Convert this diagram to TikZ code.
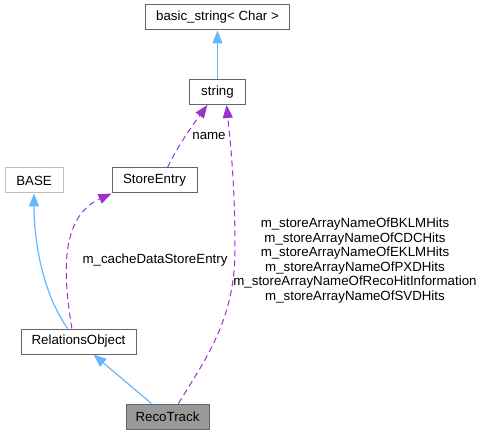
\documentclass[tikz,border=0pt]{standalone}
\usepackage{fontspec}
\setmainfont{Liberation Sans}
\usepackage{xcolor}
\usepackage{tikz}
\usetikzlibrary{positioning, calc, arrows.meta}

\definecolor{inhblue}{HTML}{63B8FF}
\definecolor{usepurple}{HTML}{9A32CD}
\definecolor{boxgray}{HTML}{666666}

\begin{document}
\begin{tikzpicture}[
    x=1pt, y=-1pt,
    box/.style={draw=boxgray, line width=1pt, minimum height=25pt, inner sep=2pt,
                font=\fontsize{13.3}{14.5}\selectfont},
    inh/.style={-{Triangle[length=13pt,width=10pt]}, inhblue, line width=1.2pt},
    usg/.style={-{Triangle[length=13pt,width=10pt]}, usepurple, line width=1pt,
                dash pattern=on 6pt off 4pt},
    lbl/.style={font=\fontsize{13.3}{14.5}\selectfont, align=center},
]
\useasboundingbox (0,0) rectangle (481,435);

\node[box, minimum width=144pt] (basic) at (217.5,17.5) {basic\_string< Char >};
\node[box, minimum width=56pt] (str) at (217.5,92) {string};
\node[box, draw=gray!50, minimum width=58pt] (base) at (34,180.5) {BASE};
\node[box, minimum width=85pt] (store) at (154.5,180.5) {StoreEntry};
\node[box, minimum width=115pt] (robj) at (78.5,341.5) {RelationsObject};
\node[box, fill=gray!80, minimum width=83pt] (reco) at (167.5,416.5) {RecoTrack};

% inheritance
\draw[inh] (str.north) -- (basic.south);
\draw[inh] (robj.130) .. controls (42,292) and (34,240) .. (base.south);
\draw[inh] (reco.141) -- (robj.-41);

% usage
\draw[usg] (store.45) .. controls (178,145) and (195,122) .. (str.-128);
\draw[usg] (robj.117) .. controls (64,280) and (58,218) .. (store.south west);
\draw[usg] (reco.50) .. controls (205,360) and (235,320) .. (235,250)
    .. controls (235,180) and (230,140) .. (str.-55);

\node[lbl] (lname) at (209,136) {name};
\node[lbl] (lcache) at (155,260) {m\_cacheDataStoreEntry};
\node[lbl] (lhits) at (355,260.5) {m\_storeArrayNameOfBKLMHits\\m\_storeArrayNameOfCDCHits\\m\_storeArrayNameOfEKLMHits\\m\_storeArrayNameOfPXDHits\\m\_storeArrayNameOfRecoHitInformation\\m\_storeArrayNameOfSVDHits};
\end{tikzpicture}
\end{document}
